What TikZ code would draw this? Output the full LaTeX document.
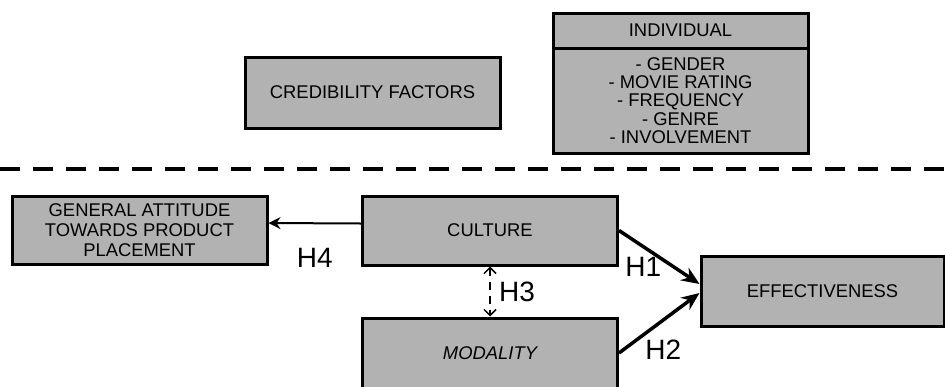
\documentclass[tikz,border=0pt]{standalone}
\usepackage{fontspec}
\setmainfont{Liberation Sans}
\usetikzlibrary{arrows.meta}

\tikzset{
  factor/.style={draw, line width=1.5pt, fill=black!30, minimum width=127.5pt,
    minimum height=35pt, inner sep=0pt, align=center,
    font=\fontsize{9.2}{9.2}\selectfont},
  hyp/.style={font=\fontsize{14}{14}\selectfont, inner sep=0pt},
}

\begin{document}
\begin{tikzpicture}[x=0.5pt, y=-0.5pt, >=Stealth]
                \useasboundingbox (0,0) rectangle (945,386);

                \node[factor, minimum height=35.5pt] (cred) at (372.5,92.5) {CREDIBILITY FACTORS};
                \node[factor, minimum height=17.5pt] (indhead) at (680.5,30.5) {INDIVIDUAL};
                \node[factor, minimum height=52.5pt, font=\fontsize{9.2}{9.15}\selectfont] (indbody) at (680.5,100.5)
                    {- GENDER\\- MOVIE RATING\\- FREQUENCY\\- GENRE\\- INVOLVEMENT};

                \coordinate (sepL) at (0,169);
                \coordinate (sepR) at (945,169);
                \draw[line width=2pt, dash pattern=on 10pt off 6.5pt] (sepL) -- (sepR);

                \node[factor, minimum height=34pt, font=\fontsize{9.2}{10}\selectfont] (att) at (139.5,230)
                    {GENERAL ATTITUDE\\TOWARDS PRODUCT\\PLACEMENT};
                \node[factor, minimum height=34.5pt] (cult) at (490,230.5) {CULTURE};
                \node[factor, minimum height=35pt] (moda) at (490,353) {\itshape MODALITY};
                \node[factor, minimum width=121.5pt, minimum height=35pt] (eff) at (822.5,291) {EFFECTIVENESS};

                \draw[->, line width=1pt, -{Stealth[length=6pt, width=6pt]}]
                    ([yshift=3.5pt]cult.west) -- ([yshift=3.5pt]att.east)
                    node[hyp, midway, yshift=-17.5pt] (h4) {H4};
                \draw[line width=1.75pt, -{Stealth[length=9pt, width=7.5pt]}]
                    (cult.east) -- ([yshift=3.5pt]eff.west)
                    node[hyp, midway, xshift=-8pt, yshift=-5pt] (h1) {H1};
                \draw[line width=1.75pt, -{Stealth[length=9pt, width=7.5pt]}]
                    (moda.east) -- ([yshift=-1pt]eff.west)
                    node[hyp, midway, xshift=2pt, yshift=-13.5pt] (h2) {H2};
                \draw[line width=0.75pt, dash pattern=on 4pt off 3pt,
                      {Straight Barb[length=3pt, width=6pt]}-{Straight Barb[length=3pt, width=6pt]}]
                    (cult.south) -- (moda.north)
                    node[hyp, midway, xshift=13.5pt] (h3) {H3};
            \end{tikzpicture}
\end{document}
